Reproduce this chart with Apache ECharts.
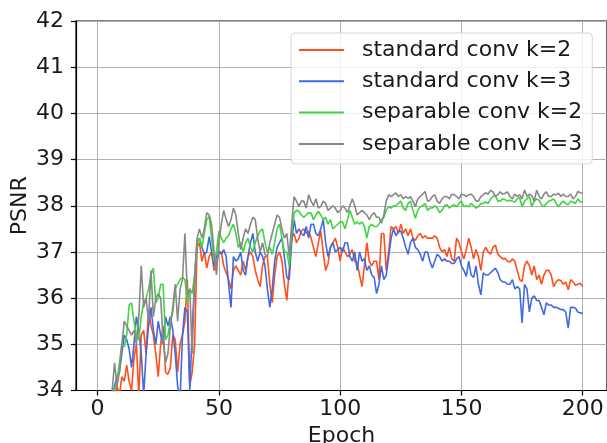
<!DOCTYPE html>
<html><head><meta charset="utf-8">
<script src="https://cdn.jsdelivr.net/npm/echarts@6/dist/echarts.min.js"></script>
<style>html,body{margin:0;padding:0;background:#fff}#c{width:607px;height:443px}</style>
</head><body><div id="c"></div><script>
const seriesNames = ['standard conv k=2', 'standard conv k=3', 'separable conv k=2', 'separable conv k=3'];
const seriesColors = ['#ff4f1a', '#4169e1', '#3fd63f', '#888888'];
const xTicks = [0, 50, 100, 150, 200];
const yTicks = [34, 35, 36, 37, 38, 39, 40, 41, 42];

const stdK2 = [
31.5, 32.4, 32.8, 33.1, 33.3, 33.6, 33.9, 34.1, 33.9, 34.3,
34.2, 34.55, 34.2, 34.0, 34.7, 35.0, 33.9, 35.2, 35.3, 34.8,
35.75, 35.4, 35.2, 34.8, 34.3, 35.0, 35.4, 34.4, 34.35, 34.5,
35.2, 35.1, 34.4, 35.0, 35.2, 35.5, 36.4, 34.1, 34.4, 35.0,
37.1, 37.2, 36.8, 37.0, 36.65, 36.9, 37.0, 36.6, 36.75, 37.0,
37.0, 36.7, 36.55, 36.4, 36.2, 36.6, 36.7, 36.6, 36.5, 36.8,
36.6, 36.9, 37.0, 36.9, 36.6, 36.4, 36.25, 36.7, 36.9, 36.9,
36.3, 35.9, 36.5, 36.9, 37.0, 36.8, 36.3, 35.95, 36.6, 37.3,
37.4, 37.2, 37.3, 37.45, 37.5, 37.4, 37.45, 37.3, 37.1, 36.9,
37.2, 37.45, 37.0, 36.6, 36.75, 37.1, 37.2, 37.3, 37.1, 36.8,
37.1, 37.0, 36.9, 36.95, 37.05, 36.8, 36.75, 36.5, 36.25, 36.7,
37.2, 36.8, 36.7, 36.8, 36.8, 36.4, 37.4, 37.4, 36.6, 37.0,
37.55, 37.5, 37.55, 37.4, 37.6, 37.4, 37.5, 37.35, 37.5, 37.3,
37.25, 37.35, 37.4, 37.3, 37.35, 37.3, 37.3, 37.3, 37.35, 37.3,
37.1, 37.0, 37.05, 36.9, 37.1, 36.85, 36.8, 37.3, 37.2, 37.0,
36.85, 37.05, 37.3, 37.1, 36.85, 37.05, 36.9, 36.6, 37.0, 37.1,
37.0, 36.95, 37.1, 37.15, 36.95, 36.9, 36.85, 36.86, 36.8, 36.78,
36.85, 36.8, 36.6, 36.4, 36.36, 36.7, 36.8, 36.7, 36.5, 36.7,
36.4, 36.5, 36.3, 36.5, 36.6, 36.6, 36.5, 36.25, 36.35, 36.4,
36.38, 36.3, 36.35, 36.18, 36.4, 36.35, 36.28, 36.3, 36.32, 36.25
];
const stdK3 = [
31.8, 32.6, 33.0, 33.3, 33.5, 33.8, 34.1, 34.3, 34.4, 34.8,
35.2, 35.1, 34.9, 34.5, 35.0, 35.6, 35.3, 34.8, 33.9, 34.8,
35.4, 35.8, 35.3, 35.0, 35.5, 35.2, 35.0, 35.6, 35.4, 35.6,
35.3, 34.8, 34.1, 33.8, 35.2, 35.8, 35.7, 34.0, 35.3, 36.4,
37.2, 37.3, 37.1, 36.95, 37.0, 37.33, 37.0, 36.7, 36.9, 37.0,
36.95, 37.05, 36.9, 36.3, 35.8, 36.9, 36.8, 36.85, 37.0, 36.6,
36.5, 36.9, 37.2, 37.4, 37.0, 36.8, 37.0, 36.9, 36.7, 36.2,
35.8, 36.2, 36.8, 37.1, 37.2, 37.3, 36.9, 36.45, 36.4, 37.2,
37.7, 37.4, 37.5, 37.4, 37.35, 37.55, 37.3, 37.6, 37.6, 37.4,
37.35, 37.5, 37.7, 37.2, 36.9, 37.1, 37.2, 37.0, 37.05, 37.1,
37.0, 37.2, 37.2, 36.9, 36.8, 37.0, 36.6, 37.0, 36.8, 36.85,
36.6, 36.7, 36.5, 36.45, 36.1, 36.3, 36.7, 36.4, 36.5, 36.9,
37.3, 37.5, 37.35, 37.45, 37.45, 37.3, 37.1, 36.95, 37.2, 37.3,
37.1, 37.05, 36.95, 36.8, 37.0, 37.0, 36.8, 36.65, 36.8, 36.95,
36.9, 36.8, 36.85, 36.8, 36.8, 36.75, 36.75, 36.85, 36.9, 36.7,
36.6, 36.47, 36.8, 36.5, 36.45, 36.7, 36.3, 36.07, 36.55, 36.5,
36.5, 36.55, 36.6, 36.65, 36.55, 36.4, 36.35, 36.35, 36.3, 36.3,
36.4, 36.2, 36.25, 36.2, 35.46, 36.3, 36.2, 35.7, 36.0, 36.05,
35.95, 35.95, 35.8, 35.64, 35.9, 35.85, 35.85, 35.8, 35.8, 35.78,
35.75, 35.75, 35.7, 35.35, 35.8, 35.8, 35.78, 35.7, 35.68, 35.67
];
const sepK2 = [
32.0, 32.8, 33.2, 33.5, 33.7, 33.9, 34.0, 34.2, 34.6, 35.0,
34.95, 35.2, 35.85, 35.9, 35.5, 35.2, 35.1, 35.6, 35.9, 36.0,
36.2, 36.5, 36.65, 35.9, 36.0, 36.3, 36.3, 35.1, 35.2, 35.5,
35.7, 36.2, 36.3, 36.4, 36.45, 36.4, 35.9, 36.2, 36.1, 36.5,
37.2, 37.3, 37.1, 37.4, 37.7, 37.77, 37.3, 36.8, 37.0, 37.45,
37.3, 37.2, 37.3, 37.35, 37.5, 37.6, 37.4, 37.1, 37.2, 37.0,
37.2, 37.3, 37.1, 37.0, 37.2, 37.35, 37.45, 37.5, 37.2, 37.0,
37.1, 36.95, 37.2, 37.5, 37.6, 37.3, 37.0, 37.0, 36.7, 37.4,
37.84, 37.9, 37.88, 37.8, 37.75, 37.8, 37.85, 37.84, 37.7, 37.8,
37.88, 37.8, 37.7, 37.75, 37.6, 37.7, 37.5, 37.55, 37.6, 37.65,
37.65, 37.5, 37.7, 37.9, 37.75, 37.6, 37.65, 37.6, 37.65, 37.55,
37.3, 37.55, 37.6, 37.55, 37.55, 37.6, 37.7, 37.75, 37.9, 37.98,
37.95, 38.0, 38.0, 38.05, 38.1, 37.95, 37.9, 38.05, 38.1, 37.9,
37.73, 37.9, 37.98, 38.0, 38.05, 37.9, 37.95, 37.95, 38.0, 37.95,
37.85, 37.9, 38.0, 38.02, 37.95, 38.0, 38.02, 37.98, 38.05, 38.1,
37.98, 38.0, 37.98, 38.05, 38.0, 37.95, 37.98, 38.05, 38.05, 38.08,
38.05, 38.15, 38.2, 38.22, 38.1, 38.1, 38.15, 38.13, 38.1, 38.12,
38.1, 38.08, 38.15, 38.18, 37.98, 38.1, 38.15, 38.2, 37.98, 38.1,
38.15, 38.12, 38.02, 37.98, 38.05, 38.1, 38.12, 38.15, 38.05, 37.98,
38.05, 38.1, 38.05, 38.02, 38.1, 38.08, 38.05, 38.15, 38.08, 38.09
];
const sepK3 = [
32.1, 32.9, 33.3, 33.6, 33.8, 34.0, 34.6, 34.1, 34.4, 35.0,
35.5, 35.4, 35.3, 35.2, 35.3, 35.0, 35.6, 36.7, 35.8, 36.0,
35.5, 36.6, 35.6, 36.0, 36.1, 36.0, 35.1, 34.6, 34.8, 35.4,
35.8, 36.3, 35.5, 36.2, 36.4, 37.4, 36.1, 36.2, 34.8, 36.4,
37.3, 37.5, 37.3, 37.5, 37.85, 37.8, 37.6, 37.0, 36.5, 37.2,
37.6, 37.9, 37.7, 37.55, 37.7, 37.95, 37.8, 37.4, 37.05, 37.3,
37.5, 37.4, 37.6, 37.75, 37.7, 37.3, 37.0, 37.2, 36.95, 36.9,
37.2, 37.4, 37.6, 37.8, 37.75, 37.5, 37.3, 37.4, 36.9, 37.6,
38.2, 38.1, 37.98, 38.1, 38.1, 37.95, 38.24, 38.1, 38.0, 38.15,
37.95, 37.98, 38.1, 38.05, 37.9, 37.95, 38.0, 37.95, 37.85, 37.9,
38.0, 37.95, 37.85, 38.0, 38.15, 38.0, 37.8, 37.85, 37.9, 37.85,
37.8, 37.7, 37.8, 37.85, 37.75, 37.75, 37.62, 37.8, 38.1, 38.24,
38.2, 38.24, 38.28, 38.2, 38.24, 38.15, 38.2, 38.16, 38.2, 38.1,
37.98, 38.15, 38.2, 38.25, 38.31, 38.1, 38.12, 38.2, 38.24, 38.1,
38.05, 38.15, 38.2, 38.2, 38.15, 38.25, 38.24, 38.2, 38.15, 38.25,
38.24, 38.2, 38.24, 38.25, 38.2, 38.1, 38.1, 38.2, 38.24, 38.28,
38.25, 38.34, 38.3, 38.2, 38.24, 38.3, 38.25, 38.27, 38.3, 38.2,
38.15, 38.25, 38.2, 38.24, 38.15, 38.34, 38.2, 38.25, 38.22, 38.1,
38.34, 38.2, 38.15, 38.25, 38.3, 38.2, 38.2, 38.25, 38.24, 38.27,
38.2, 38.25, 38.2, 38.2, 38.25, 38.15, 38.2, 38.31, 38.28, 38.27
];
const allSeries = [stdK2, stdK3, sepK2, sepK3];

const FONT = 'DejaVu Sans';
const chart = echarts.init(document.getElementById('c'), null, {renderer: 'canvas'});
chart.setOption({
  animation: false,
  backgroundColor: '#ffffff',
  grid: {left: 76, top: 21, right: 0, bottom: 52.5, outerBoundsMode: 'none', containLabel: false,
    show: true, borderColor: '#000', borderWidth: 1.2, backgroundColor: 'transparent'},
  legend: {
    orient: 'vertical', left: 291, top: 33, icon: 'rect',
    backgroundColor: 'rgba(255,255,255,0.8)', borderColor: '#d6d6d6', borderWidth: 1, borderRadius: 4,
    padding: [6, 10, 9, 8], itemWidth: 45, itemHeight: 2, itemGap: 9.3,
    textStyle: {fontFamily: FONT, fontSize: 22, color: '#1a1a1a', lineHeight: 22, padding: [0, 0, 0, 13]},
    data: seriesNames
  },
  xAxis: {
    type: 'value', min: -8.9, max: 210, interval: 50,
    name: 'Epoch', nameLocation: 'middle', nameGap: 35, nameMoveOverlap: false,
    nameTextStyle: {fontFamily: FONT, fontSize: 22, color: '#1a1a1a'},
    axisLine: {show: true, onZero: false, lineStyle: {color: '#000', width: 1.2}},
    axisTick: {show: true, length: 5, customValues: xTicks, lineStyle: {color: '#000', width: 1.2}},
    axisLabel: {fontFamily: FONT, fontSize: 22, color: '#1a1a1a', margin: 8, customValues: xTicks,
      formatter: v => (xTicks.indexOf(v) >= 0 ? String(v) : '')},
    splitLine: {show: true, lineStyle: {color: '#b0b0b0', width: 1}}
  },
  yAxis: {
    type: 'value', min: 34, max: 42, interval: 1,
    name: 'PSNR', nameLocation: 'middle', nameGap: 45, nameMoveOverlap: false,
    nameTextStyle: {fontFamily: FONT, fontSize: 22, color: '#1a1a1a'},
    axisLine: {show: true, onZero: false, lineStyle: {color: '#000', width: 1.2}},
    axisTick: {show: true, length: 5, lineStyle: {color: '#000', width: 1.2}},
    axisLabel: {fontFamily: FONT, fontSize: 22, color: '#1a1a1a', margin: 12,
      formatter: v => (yTicks.indexOf(v) >= 0 ? String(v) : '')},
    splitLine: {show: true, lineStyle: {color: '#b0b0b0', width: 1}}
  },
  series: allSeries.map((vals, i) => ({
    name: seriesNames[i], type: 'line', symbol: 'none', showSymbol: false, clip: true,
    color: seriesColors[i],
    lineStyle: {color: seriesColors[i], width: 1.6},
    data: vals.map((v, j) => [j + 1, v]),
    z: 2 + i
  }))
});
</script></body></html>
